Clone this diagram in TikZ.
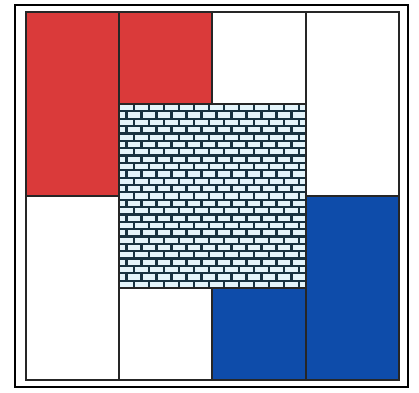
\documentclass[tikz,border=0pt]{standalone}
\begin{document}
\begin{tikzpicture}[x=1pt,y=-1pt,
  cell/.style={draw=black!85,line width=1.3pt},
  mortar/.style={draw=brickline,line width=2.2pt}]
\definecolor{mred}{RGB}{218,58,58}
\definecolor{mblue}{RGB}{14,76,170}
\definecolor{brickfill}{RGB}{228,244,250}
\definecolor{brickline}{RGB}{24,50,64}
\useasboundingbox (0,0) rectangle (419,392);
\fill[white] (0,0) rectangle (419,392);
% cells
\path[cell,fill=mred] (26,12) rectangle (119,196);
\path[cell,fill=white] (26,196) rectangle (119,380);
\path[cell,fill=mred] (119,12) rectangle (212,104);
\path[cell,fill=white] (212,12) rectangle (306,104);
\path[cell,fill=white] (306,12) rectangle (399,196);
\path[cell,fill=mblue] (306,196) rectangle (399,380);
\path[cell,fill=white] (119,288) rectangle (212,380);
\path[cell,fill=mblue] (212,288) rectangle (306,380);
% brick hatch
\fill[brickfill] (119,104) rectangle (306,288);
\begin{scope}
\clip (119,104) rectangle (306,288);
\foreach \r in {0,...,25}{
  \draw[mortar] (119,104+\r*7.36) -- (306,104+\r*7.36);
}
\foreach \r in {0,...,24}{
  \pgfmathsetmacro{\yt}{104+\r*7.36}
  \pgfmathsetmacro{\yb}{104+(\r+1)*7.36}
  \pgfmathsetmacro{\off}{mod(\r,2)*7.5}
  \foreach \c in {0,...,13}{
    \draw[mortar] ({119+\off+\c*15},\yt) -- ({119+\off+\c*15},\yb);
  }
}
\end{scope}
\draw[cell] (119,104) rectangle (306,288);
\draw[cell] (26,12) rectangle (399,380);
% outer frame
\draw[black,line width=1.8pt] (15,5) rectangle (408,387);
\end{tikzpicture}
\end{document}
